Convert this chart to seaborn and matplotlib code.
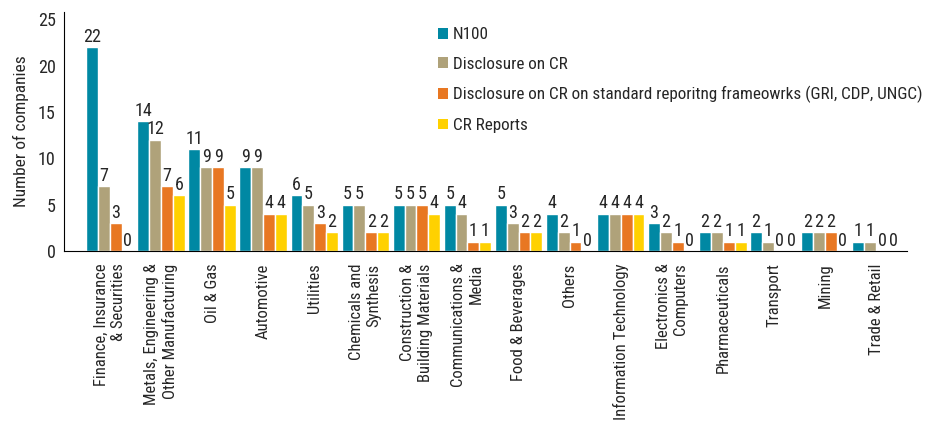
import matplotlib
matplotlib.use("Agg")
import matplotlib.pyplot as plt
import pandas as pd
import seaborn as sns
from matplotlib.patches import Patch

sectors = [
    "Finance, Insurance\n& Securities",
    "Metals, Engineering &\nOther Manufacturing",
    "Oil & Gas",
    "Automotive",
    "Utilities",
    "Chemicals and\nSynthesis",
    "Construction &\nBuilding Materials",
    "Communications &\nMedia",
    "Food & Beverages",
    "Others",
    "Information Technology",
    "Electronics &\nComputers",
    "Pharmaceuticals",
    "Transport",
    "Mining",
    "Trade & Retail",
]
series = [
    "N100",
    "Disclosure on CR",
    "Disclosure on CR on standard reporitng frameowrks (GRI, CDP, UNGC)",
    "CR Reports",
]
n100 = [22, 14, 11, 9, 6, 5, 5, 5, 5, 4, 4, 3, 2, 2, 2, 1]
disclosure = [7, 12, 9, 9, 5, 5, 5, 4, 3, 2, 4, 2, 2, 1, 2, 1]
standard = [3, 7, 9, 4, 3, 2, 5, 1, 2, 1, 4, 1, 1, 0, 2, 0]
reports = [0, 6, 5, 4, 2, 2, 4, 1, 2, 0, 4, 0, 1, 0, 0, 0]
colors = ["#0088A3", "#AFA27A", "#E87722", "#FFD100"]

sns.set_style("white")
plt.rcParams["font.family"] = ["Roboto Condensed", "Liberation Sans Narrow",
                               "Roboto", "DejaVu Sans"]

rows = []
for name, vals in zip(series, [n100, disclosure, standard, reports]):
    for sec, v in zip(sectors, vals):
        rows.append({"Sector": sec, "Series": name, "Count": v})
df = pd.DataFrame(rows)

fig, ax = plt.subplots(figsize=(9.28, 4.21), dpi=100)
fig.subplots_adjust(left=0.069, right=0.977, bottom=0.404, top=0.972)

sns.barplot(
    data=df, x="Sector", y="Count", hue="Series",
    order=sectors, hue_order=series, palette=colors,
    width=0.93, gap=0, saturation=1, errorbar=None, ax=ax, legend=False,
)

for cont in ax.containers:
    ax.bar_label(cont, padding=1, fontsize=13, color="#262626")

ax.set_ylim(0, 25.8)
ax.set_xlim(-0.9, 15.6)
ax.set_yticks([0, 5, 10, 15, 20, 25])
ax.tick_params(axis="y", labelsize=13, length=0, pad=6, colors="#262626")
ax.tick_params(axis="x", length=0, pad=9, colors="#262626")
ax.set_xticks(range(len(sectors)))
ax.set_xticklabels(sectors, rotation=90, fontsize=12, multialignment="right",
                   va="top", ha="center")
ax.set_xlabel("")
ax.set_ylabel("Number of companies", fontsize=12.5, color="#262626", labelpad=6)
sns.despine(ax=ax)
ax.spines["left"].set_color("black")
ax.spines["bottom"].set_color("black")

handles = [Patch(facecolor=c, edgecolor="none") for c in colors]
ax.legend(handles, series, loc="upper left", bbox_to_anchor=(0.425, 1.0),
          frameon=False, fontsize=12.3, handlelength=0.6, handleheight=0.6,
          handletextpad=0.3, labelspacing=0.85)

fig.savefig("out.png", dpi=100)
